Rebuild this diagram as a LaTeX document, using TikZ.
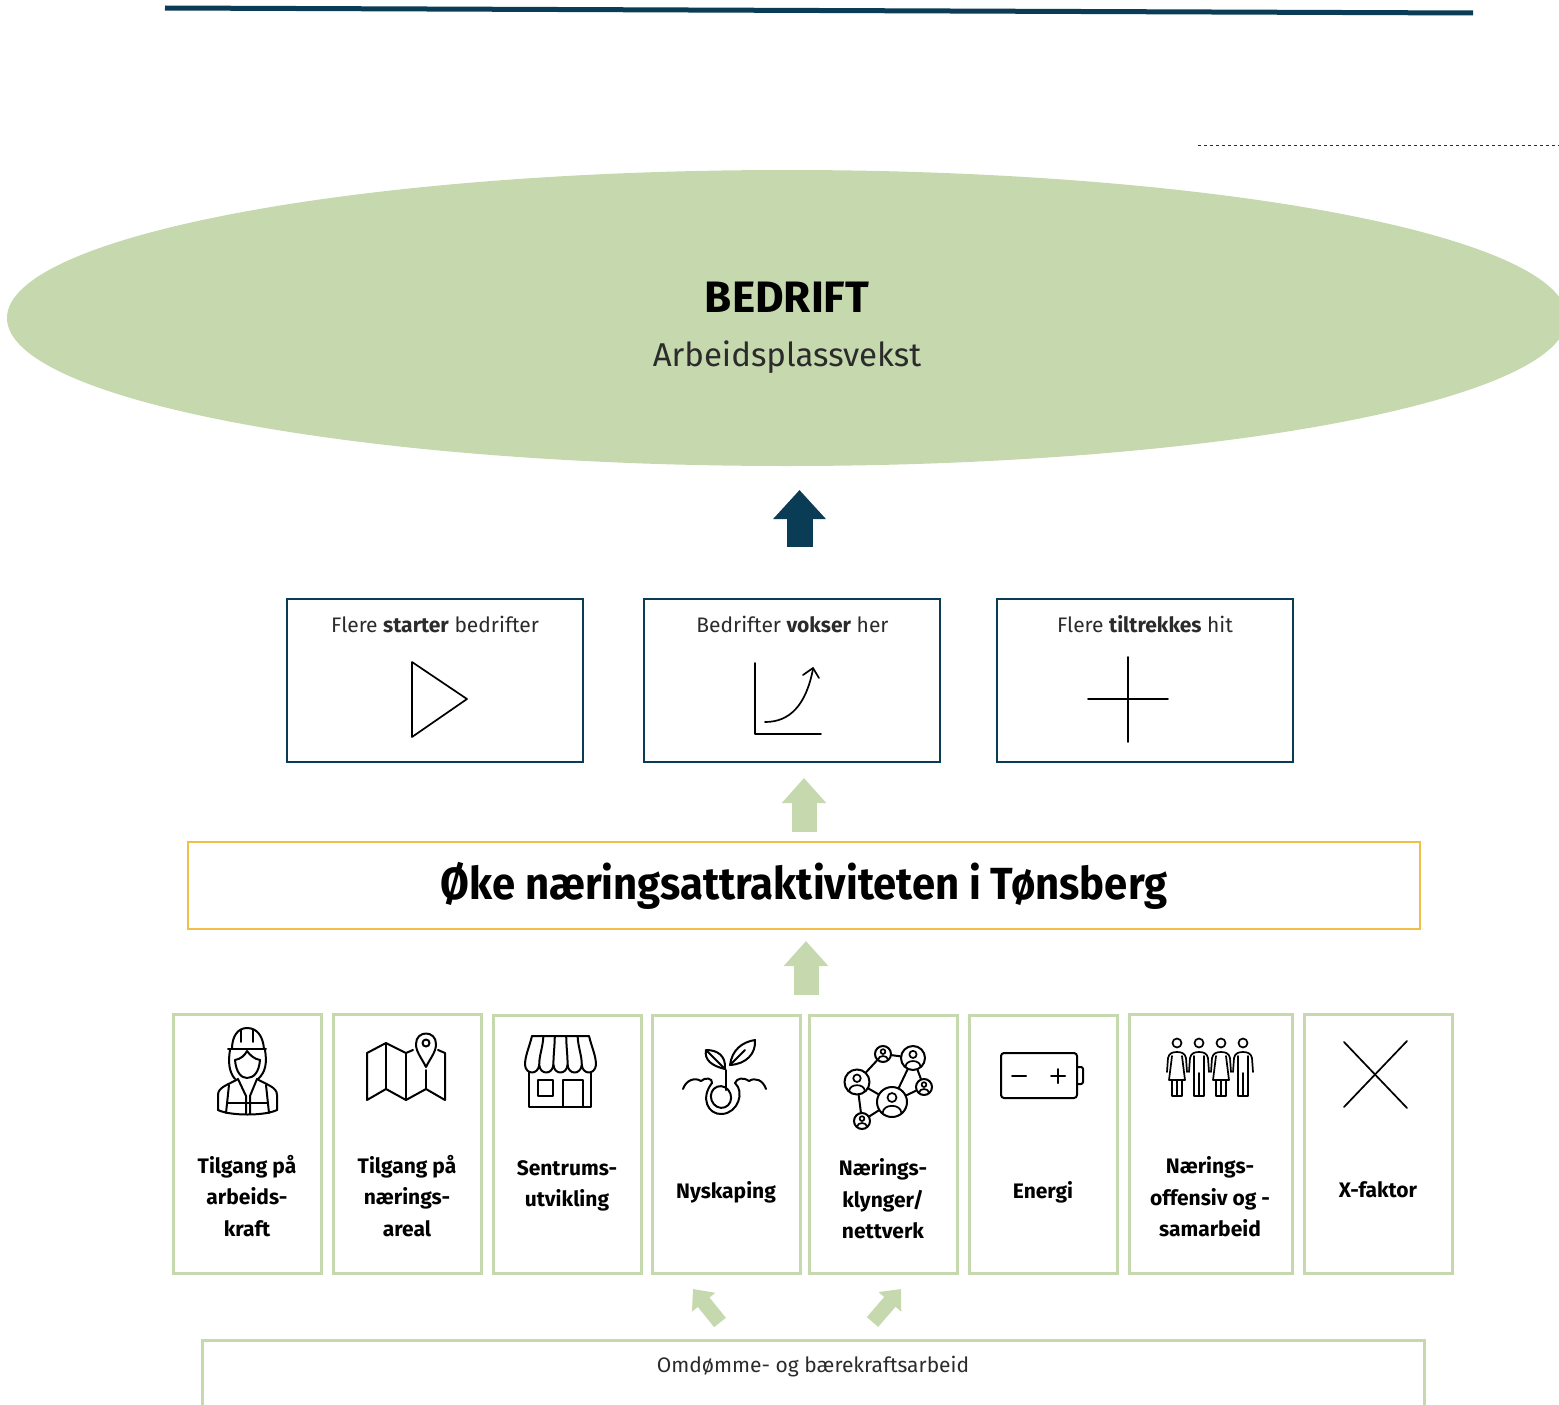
\documentclass[tikz,border=0pt]{standalone}
\usepackage{fontspec}
\setmainfont{Fira Sans}
\newfontfamily\titlefont[FakeStretch=0.93]{Fira Sans}
\usetikzlibrary{arrows.meta}
\definecolor{darkteal}{HTML}{0B3C55}
\definecolor{lightgreen}{HTML}{C6D9AE}
\definecolor{softorange}{HTML}{F1BE4A}
\definecolor{softink}{HTML}{2B2B2B}
\tikzset{
  tealbox/.style={draw=darkteal, line width=2pt, fill=white, minimum width=296pt, minimum height=163pt},
  greenbox/.style={draw=lightgreen, line width=3pt, fill=white, minimum height=259pt},
  boxlabel/.style={align=center, font=\fontsize{21}{31.5}\selectfont\bfseries},
  toplabel/.style={font=\fontsize{21}{26}\selectfont, text=softink},
  icon/.style={line width=2pt, line join=round, line cap=round},
  thinicon/.style={line width=1.7pt, line join=round, line cap=round},
  greenarrow/.style={line width=25pt, draw=lightgreen, -{Triangle[width=43pt,length=25pt]}},
  tealarrow/.style={line width=26pt, draw=darkteal, -{Triangle[width=51pt,length=29pt]}},
  smallarrow/.style={line width=15pt, draw=lightgreen, -{Triangle[width=29pt,length=17pt]}},
}
\begin{document}
\begin{tikzpicture}[x=1pt, y=-1pt]
  \useasboundingbox (0,0) rectangle (1559,1405);
  \clip (0,0) rectangle (1559,1405);

  % top rules
  \coordinate (rulea) at (165,8);
  \coordinate (ruleb) at (1473,13);
  \draw[darkteal, line width=5pt] (rulea) -- (ruleb);
  \coordinate (dasha) at (1198,145);
  \coordinate (dashb) at (1559,145);
  \draw[softink, line width=0.8pt, dashed] (dasha) -- (dashb);

  % ellipse
  \fill[lightgreen] (787,318) ellipse [x radius=780, y radius=148];
  \node[font=\fontsize{44}{50}\selectfont\bfseries] (bedrift) at (787,297) {BEDRIFT};
  \node[font=\fontsize{33}{40}\selectfont, text=softink] (vekst) at (787,357) {Arbeidsplassvekst};

  % teal boxes
  \node[tealbox] (starter) at (435,680.5) {};
  \node[tealbox] (vokser) at (792,680.5) {};
  \node[tealbox] (tiltrekkes) at (1145,680.5) {};
  \node[toplabel] (startertxt) at (435,624) {Flere \textbf{starter} bedrifter};
  \node[toplabel] (voksertxt) at (792.5,624) {Bedrifter \textbf{vokser} her};
  \node[toplabel] (tiltrekkestxt) at (1145,624) {Flere \textbf{tiltrekkes} hit};
  \draw[thinicon] (412,662) -- (467,699) -- (412,737) -- cycle;
  \draw[thinicon] (755,663) -- (755,734) -- (821,734);
  \draw[thinicon] (765,722) .. controls (790,722) and (806,705) .. (813,669);
  \draw[thinicon] (803,675) -- (813,668) -- (819,678);
  \draw[thinicon] (1128,657) -- (1128,742);
  \draw[thinicon] (1088,699) -- (1168,699);

  % orange box
  \node[draw=softorange, line width=2pt, minimum width=1232pt, minimum height=87pt] (oke) at (804,885.5) {};
  \node[font=\fontsize{45}{54}\titlefont\bfseries] (oketxt) at (804,886) {Øke næringsattraktiviteten i Tønsberg};

  % block arrows
  \coordinate (tealfoot) at (799.5,547);
  \coordinate (tealtip) at (799.5,490);
  \draw[tealarrow] (tealfoot) -- (tealtip);
  \coordinate (midfoot) at (804,832);
  \coordinate (midtip) at (804,778);
  \draw[greenarrow] (midfoot) -- (midtip);
  \coordinate (lowfoot) at (806,995);
  \coordinate (lowtip) at (806,941);
  \draw[greenarrow] (lowfoot) -- (lowtip);
  \coordinate (leftfoot) at (720,1322.5);
  \coordinate (lefttip) at (693,1289);
  \draw[smallarrow] (leftfoot) -- (lefttip);
  \coordinate (rightfoot) at (872.5,1322);
  \coordinate (righttip) at (901,1289);
  \draw[smallarrow] (rightfoot) -- (righttip);

  % green boxes
  \node[greenbox, minimum width=148pt] (arbeid) at (247,1143.5) {};
  \node[greenbox, minimum width=148pt] (areal) at (407,1143.5) {};
  \node[greenbox, minimum width=148pt, minimum height=258pt] (sentrum) at (567,1144) {};
  \node[greenbox, minimum width=148pt, minimum height=258pt] (nyskap) at (726,1144) {};
  \node[greenbox, minimum width=148pt, minimum height=258pt] (klynger) at (883,1144) {};
  \node[greenbox, minimum width=148pt, minimum height=258pt] (energi) at (1043,1144) {};
  \node[greenbox, minimum width=163pt] (offensiv) at (1210.5,1143.5) {};
  \node[greenbox, minimum width=148pt] (xfaktor) at (1378,1143.5) {};
  \node[boxlabel] (arbeidtxt) at (247,1196) {Tilgang på\\arbeids-\\kraft};
  \node[boxlabel] (arealtxt) at (407,1196) {Tilgang på\\nærings-\\areal};
  \node[boxlabel] (sentrumtxt) at (567,1186) {Sentrums-\\utvikling};
  \node[boxlabel] (nyskaptxt) at (726,1192) {Nyskaping};
  \node[boxlabel] (klyngertxt) at (883,1199) {Nærings-\\klynger/\\nettverk};
  \node[boxlabel] (energitxt) at (1043,1192) {Energi};
  \node[boxlabel] (offensivtxt) at (1210,1197) {Nærings-\\offensiv og -\\samarbeid};
  \node[boxlabel] (xfaktortxt) at (1378,1190) {X-faktor};

  % bottom box
  \node[greenbox, minimum width=1222pt, minimum height=130pt, anchor=north] (omdomme) at (813,1338.5) {};
  \node[toplabel] (omdommetxt) at (813,1367) {Omdømme- og bærekraftsarbeid};

  % worker
  \draw[icon] (232,1049) .. controls (232,1036) and (238,1028) .. (247,1028) .. controls (257,1028) and (263,1036) .. (264,1049);
  \draw[icon] (228,1049) -- (266,1049);
  \draw[thinicon] (241,1030) -- (241,1042);
  \draw[thinicon] (253,1030) -- (253,1042);
  \draw[icon] (230,1050) .. controls (228,1062) and (229,1072) .. (235,1079);
  \draw[icon] (265,1050) .. controls (267,1062) and (266,1072) .. (258,1079);
  \draw[icon] (235,1060) .. controls (241,1059) and (245,1055) .. (247,1051) .. controls (250,1055) and (254,1059) .. (260,1060);
  \draw[icon] (235,1060) .. controls (236,1072) and (241,1078) .. (247,1078) .. controls (254,1078) and (259,1072) .. (260,1060);
  \draw[icon] (218,1110) -- (218,1095) .. controls (218,1087) and (228,1085) .. (238,1079);
  \draw[icon] (277,1110) -- (277,1095) .. controls (277,1087) and (267,1085) .. (257,1079);
  \draw[icon] (218,1110) .. controls (230,1116) and (265,1116) .. (277,1110);
  \draw[icon] (229,1085) -- (226,1113);
  \draw[icon] (266,1085) -- (269,1113);
  \draw[icon] (238,1079) -- (246,1096) -- (246,1114);
  \draw[icon] (257,1079) -- (250,1096) -- (250,1114);
  \draw[icon] (227,1103) -- (268,1103);

  % map
  \draw[icon] (413,1050) -- (406,1053) -- (386,1043) -- (367,1053) -- (367,1100) -- (386,1089)
    -- (406,1100) -- (426,1089) -- (445,1100) -- (445,1053) -- (438,1050);
  \draw[icon] (386,1043) -- (386,1089);
  \draw[icon] (406,1053) -- (406,1100);
  \draw[icon] (426,1070) -- (426,1089);
  \draw[icon] (426,1067) .. controls (421,1057) and (416,1052) .. (416,1044) .. controls (416,1030) and (436,1030) .. (436,1044) .. controls (436,1052) and (431,1057) .. (426,1067) -- cycle;
  \draw[icon] (426,1043) circle [radius=3.5];

  % shop
  \draw[icon] (532,1036) -- (589,1036) .. controls (592,1048) and (596,1056) .. (596,1065);
  \draw[icon] (532,1036) .. controls (529,1048) and (525,1056) .. (525,1065);
  \foreach \i in {0,...,4} {
    \draw[icon] ({525+14.2*\i},1065) .. controls ({526+14.2*\i},1075) and ({538+14.2*\i},1075) .. ({539.2+14.2*\i},1065);
  }
  \foreach \i in {1,...,4} {
    \draw[icon] ({532+11.4*\i},1036) .. controls ({531+11.8*\i},1048) and ({525+14.2*\i},1055) .. ({525+14.2*\i},1065);
  }
  \draw[icon] (529,1072) -- (529,1107) -- (591,1107) -- (591,1072);
  \draw[icon] (538,1080) rectangle (553,1096);
  \draw[icon] (563,1107) -- (563,1080) -- (583,1080) -- (583,1107);

  % sprout
  \draw[icon] (726,1070) -- (726,1090);
  \draw[icon] (725,1069) .. controls (712,1066) and (704,1060) .. (706,1050) .. controls (718,1050) and (726,1056) .. (725,1069) -- cycle;
  \draw[icon] (706,1050) -- (725,1069);
  \draw[icon] (730,1065) .. controls (732,1050) and (742,1042) .. (755,1040) .. controls (756,1054) and (746,1064) .. (730,1065) -- cycle;
  \draw[icon] (730,1065) -- (745,1050);
  \draw[icon] (683,1089) .. controls (686,1080) and (695,1077) .. (701,1081) .. controls (705,1077) and (713,1078) .. (712,1083);
  \draw[icon] (766,1089) .. controls (763,1080) and (755,1077) .. (749,1081) .. controls (743,1077) and (737,1078) .. (735,1083);
  \draw[icon] (712,1083) .. controls (700,1098) and (708,1115) .. (722,1114) .. controls (738,1113) and (745,1092) .. (735,1083);
  \draw[icon, rotate around={20:(721,1097)}] (721,1097) ellipse [x radius=10, y radius=11];

  % network
  \foreach \name/\px/\py/\r in {neta/857/1082/12.5, netb/913/1058/12, netc/892/1102/15, netd/883/1054/8, nete/924/1087/8, netf/862/1121/8} {
    \node[circle, draw, line width=2pt, minimum size={2*\r*1pt}, inner sep=0pt] (\name) at (\px,\py) {};
    \draw[thinicon] (\px,{\py-0.3*\r}) circle [radius={0.3*\r}];
    \draw[thinicon] ({\px-0.62*\r},{\py+0.72*\r}) .. controls ({\px-0.6*\r},{\py+0.1*\r}) and ({\px+0.6*\r},{\py+0.1*\r}) .. ({\px+0.62*\r},{\py+0.72*\r});
  }
  \draw[icon] (neta) -- (netd);
  \draw[icon] (netd) -- (netb);
  \draw[icon] (netb) -- (netc);
  \draw[icon] (netb) -- (nete);
  \draw[icon] (neta) -- (netc);
  \draw[icon] (netc) -- (nete);
  \draw[icon] (neta) -- (netf);
  \draw[icon] (netf) -- (netc);

  % battery
  \draw[icon, rounded corners=3pt] (1001,1053) rectangle (1077,1098);
  \draw[icon, rounded corners=2pt] (1077,1067) -- (1083,1067) -- (1083,1084) -- (1077,1084);
  \draw[icon] (1012,1076) -- (1026,1076);
  \draw[icon] (1051,1076) -- (1065,1076);
  \draw[icon] (1058,1069) -- (1058,1083);

  % people
  \foreach \c/\kind in {1177/0, 1199/1, 1221/0, 1243/1} {
    \draw[thinicon] (\c,1043) circle [radius=4.5];
    \draw[thinicon] (\c-10,1072) -- (\c-9,1058) .. controls (\c-8,1053) and (\c-4,1052) .. (\c,1052) .. controls (\c+4,1052) and (\c+8,1053) .. (\c+9,1058) -- (\c+10,1072);
    \ifnum\kind=0
      \draw[thinicon] (\c-5,1056) -- (\c-8,1080) -- (\c+8,1080) -- (\c+5,1056);
      \draw[thinicon] (\c-5,1080) -- (\c-5,1096) -- (\c+5,1096) -- (\c+5,1080);
      \draw[thinicon] (\c,1080) -- (\c,1096);
    \else
      \draw[thinicon] (\c-5,1056) -- (\c-5,1096) -- (\c+5,1096) -- (\c+5,1056);
      \draw[thinicon] (\c,1073) -- (\c,1096);
    \fi
  }

  % x
  \draw[thinicon] (1344,1042) -- (1407,1108);
  \draw[thinicon] (1407,1041) -- (1344,1107);
\end{tikzpicture}
\end{document}
